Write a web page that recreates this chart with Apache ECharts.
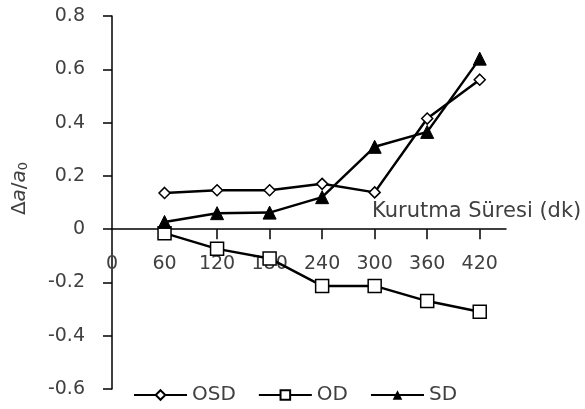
<!DOCTYPE html>
<html><head><meta charset="utf-8">
<script src="https://cdn.jsdelivr.net/npm/echarts@6/dist/echarts.min.js"></script>
<style>html,body{margin:0;padding:0;background:#fff}#c{width:585px;height:409px}</style>
</head><body><div id="c"></div>
<script>
var xs = [60, 120, 180, 240, 300, 360, 420];
var xTickLabels = [0, 60, 120, 180, 240, 300, 360, 420];
var osd = [0.136, 0.146, 0.146, 0.170, 0.138, 0.415, 0.561];
var od = [-0.015, -0.074, -0.110, -0.213, -0.213, -0.270, -0.310];
var sd = [0.027, 0.060, 0.062, 0.120, 0.309, 0.365, 0.640];
var yTicks = [-0.6, -0.4, -0.2, 0, 0.2, 0.4, 0.6, 0.8];

function pairs(v){ return xs.map(function(x,i){ return [x, v[i]]; }); }
var FONT = 'DejaVu Sans';
var TXT = '#404040';
var chart = echarts.init(document.getElementById('c'));
chart.setOption({
  animation: false,
  textStyle: {fontFamily: FONT},
  grid: [
    {left: 112, top: 16, width: 394, height: 373, containLabel: false, outerBoundsMode: 'none'},
    {left: 112, top: 16, width: 394, height: 212, containLabel: false, outerBoundsMode: 'none'}
  ],
  xAxis: [{
    type: 'value', gridIndex: 0, min: 0, max: 450, interval: 60,
    axisLine: {onZero: true, lineStyle: {color: '#000', width: 1.5}},
    axisTick: {show: true, length: 10, inside: false, customValues: xs, lineStyle: {color: '#000', width: 1.5}},
    axisLabel: {show: false},
    splitLine: {show: false}
  }, {
    type: 'value', gridIndex: 1, min: 0, max: 450, interval: 60, position: 'bottom',
    axisLine: {show: false, onZero: false},
    axisTick: {show: false},
    axisLabel: {customValues: xTickLabels, margin: 27, fontSize: 19, color: TXT, fontFamily: FONT},
    splitLine: {show: false}
  }],
  yAxis: [{
    type: 'value', gridIndex: 0, min: -0.6, max: 0.8, interval: 0.2,
    axisLine: {show: true, lineStyle: {color: '#000', width: 1.5}},
    axisTick: {show: true, length: 9, lineStyle: {color: '#000', width: 1.5}},
    axisLabel: {margin: 27, fontSize: 19, color: TXT, fontFamily: FONT,
      formatter: function(v){ return String(Math.round(v*10)/10); }},
    splitLine: {show: false},
    name: '{n|Δ}{i|a}{n|/}{i|a}{s|0}',
    nameLocation: 'middle', nameGap: 82, nameRotate: 90,
    nameTextStyle: {color: TXT, padding: [0, 0, 0, 28], rich: {
      n: {fontSize: 20, fontFamily: FONT, color: TXT},
      i: {fontSize: 20, fontFamily: FONT, fontStyle: 'italic', color: TXT},
      s: {fontSize: 13, fontFamily: FONT, color: TXT, verticalAlign: 'bottom', padding: [8,0,0,0]}
    }}
  }, {
    type: 'value', gridIndex: 1, show: false, min: 0, max: 1
  }],
  graphic: [{
    type: 'text', left: 372, top: 201,
    style: {text: 'Kurutma Süresi (dk)', fontSize: 21, fontFamily: FONT, fill: TXT}
  }],
  legend: {
    bottom: 4, left: 133, padding: 0,
    itemWidth: 53, itemHeight: 12, itemGap: 22,
    textStyle: {fontSize: 20, color: TXT, fontFamily: FONT},
    data: ['OSD', 'OD', 'SD']
  },
  series: [
    {name: 'OSD', type: 'line', data: pairs(osd), symbol: 'diamond', symbolSize: 11,
     lineStyle: {color: '#000', width: 2.5}, itemStyle: {color: '#fff', borderColor: '#000', borderWidth: 1.5}},
    {name: 'OD', type: 'line', data: pairs(od), symbol: 'rect', symbolSize: 13,
     lineStyle: {color: '#000', width: 2.5}, itemStyle: {color: '#fff', borderColor: '#000', borderWidth: 1.5}},
    {name: 'SD', type: 'line', data: pairs(sd), symbol: 'triangle', symbolSize: 13,
     lineStyle: {color: '#000', width: 2.5}, itemStyle: {color: '#000', borderColor: '#000'}}
  ]
});
</script></body></html>
